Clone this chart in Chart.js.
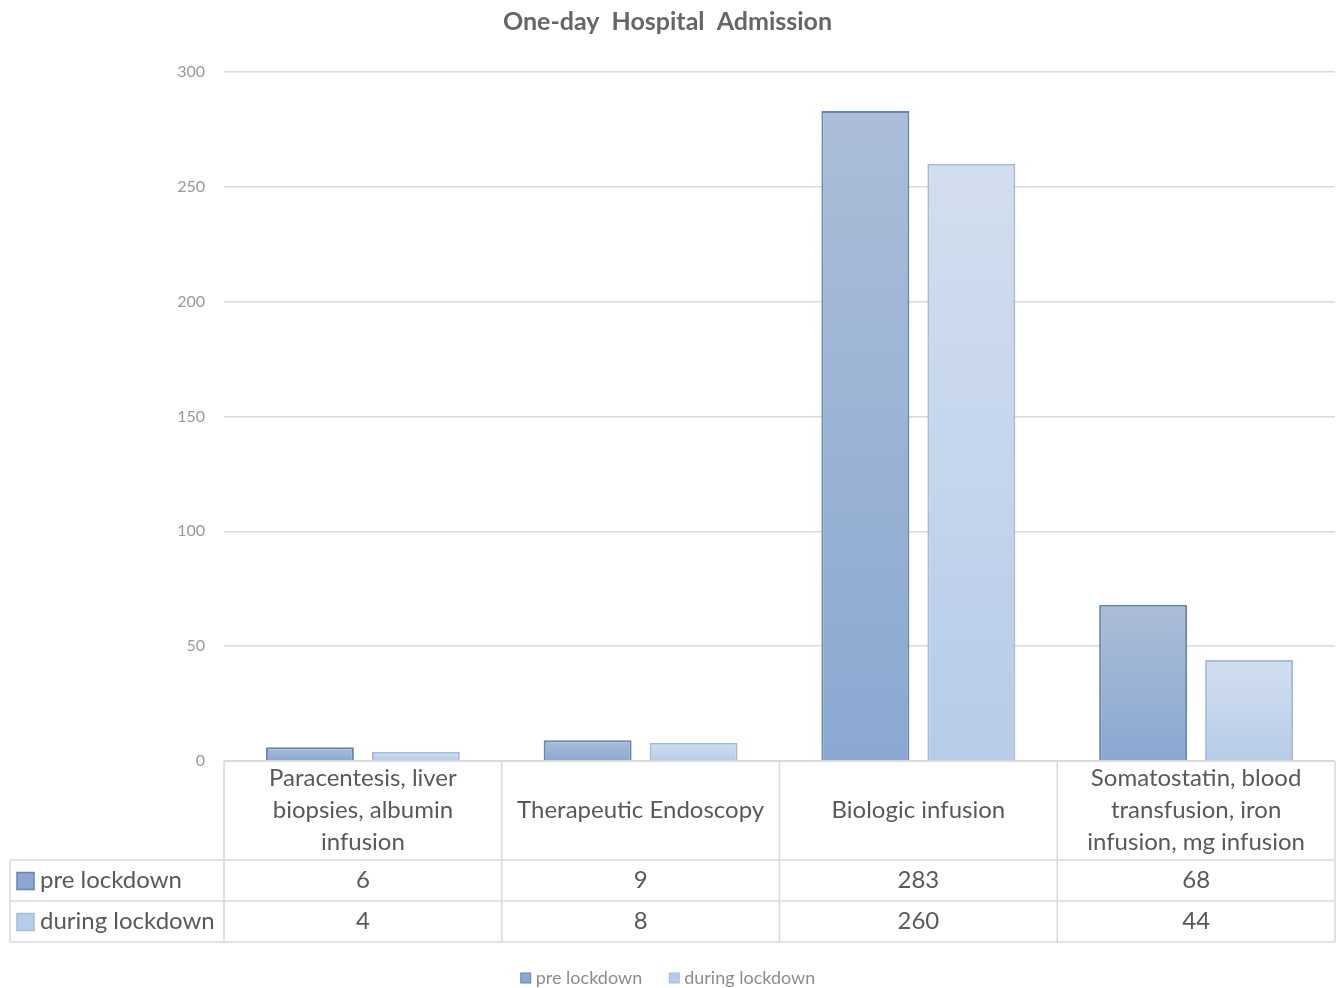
<!DOCTYPE html>
<html>
<head>
<meta charset="utf-8">
<title>One-day Hospital Admission</title>
<script src="https://cdn.jsdelivr.net/npm/chart.js@4.4.1/dist/chart.umd.min.js"></script>
<style>
  html, body { margin: 0; padding: 0; background: #fff; }
  #wrap { width: 1340px; height: 988px; position: relative; }
</style>
</head>
<body>
<div id="wrap"><canvas id="admissionChart"></canvas></div>
<script>
// categories are kept as the wrapped lines shown in the table header
const categories = [
  ['Paracentesis, liver', 'biopsies, albumin', 'infusion'],
  ['Therapeutic Endoscopy'],
  ['Biologic infusion'],
  ['Somatostatin, blood', 'transfusion, iron', 'infusion, mg infusion']
];
const seriesNames = ['pre lockdown', 'during lockdown'];
const preLockdown = [6, 9, 283, 68];
const duringLockdown = [4, 8, 260, 44];
const yMax = 300;
const yStep = 50;

const fontFamily = 'Lato, "Open Sans", sans-serif';
const textGrey = '#595959';
const lineGrey = '#d9d9d9';

// top / bottom colours of each series' gradient, plus border
const seriesStyles = [
  { top: '#abbdd8', bottom: '#8aa8d1', border: '#6686b2' },
  { top: '#d2deef', bottom: '#b7cce8', border: '#a3bbdc' }
];

function barGradient(style) {
  return function(context) {
    const chart = context.chart;
    const area = chart.chartArea;
    if (!area) return style.bottom;
    const y = chart.scales.y;
    const v = context.raw;
    const top = y.getPixelForValue(v);
    const bottom = y.getPixelForValue(0);
    if (!isFinite(top) || top === bottom) return style.bottom;
    const g = chart.ctx.createLinearGradient(0, top, 0, bottom);
    g.addColorStop(0, style.top);
    g.addColorStop(1, style.bottom);
    return g;
  };
}

// draws the data table under the plot and the small legend at the bottom
const dataTablePlugin = {
  id: 'dataTable',
  afterDraw(chart) {
    const ctx = chart.ctx;
    const area = chart.chartArea;
    const xs = chart.scales.x;
    const n = chart.data.labels.length;
    const colW = (area.right - area.left) / n;
    const headH = 99, rowH = 41, tableLeft = 10;
    const top = area.bottom;
    const bottom = top + headH + rowH * chart.data.datasets.length;

    ctx.save();
    ctx.strokeStyle = lineGrey;
    ctx.lineWidth = 1.5;
    ctx.beginPath();
    ctx.moveTo(area.left, top);
    ctx.lineTo(area.right, top);
    for (let r = 0; r <= chart.data.datasets.length; r++) {
      const yy = top + headH + r * rowH;
      ctx.moveTo(tableLeft, yy);
      ctx.lineTo(area.right, yy);
    }
    for (let i = 0; i <= n; i++) {
      const xx = area.left + i * colW;
      ctx.moveTo(xx, top);
      ctx.lineTo(xx, bottom);
    }
    ctx.moveTo(tableLeft, top + headH);
    ctx.lineTo(tableLeft, bottom);
    ctx.stroke();

    ctx.fillStyle = textGrey;
    ctx.font = '24px ' + fontFamily;
    ctx.textAlign = 'center';
    ctx.textBaseline = 'middle';
    const lineH = 32;
    chart.data.labels.forEach((lines, i) => {
      const cx = xs.getPixelForValue(i);
      const cy = top + headH / 2;
      lines.forEach((ln, k) => {
        ctx.fillText(ln, cx, cy + (k - (lines.length - 1) / 2) * lineH);
      });
    });

    chart.data.datasets.forEach((ds, r) => {
      const cy = top + headH + r * rowH + rowH / 2;
      const st = seriesStyles[r];
      // legend key
      ctx.fillStyle = st.bottom;
      ctx.fillRect(17, cy - 8, 17, 17);
      ctx.strokeStyle = st.border;
      ctx.lineWidth = 1.5;
      ctx.strokeRect(17, cy - 8, 17, 17);
      ctx.fillStyle = textGrey;
      ctx.textAlign = 'left';
      ctx.fillText(ds.label, 40, cy);
      ctx.textAlign = 'center';
      ds.data.forEach((v, i) => {
        ctx.fillText(String(v), xs.getPixelForValue(i), cy);
      });
    });

    // bottom legend
    ctx.font = '18px ' + fontFamily;
    const gap = 27, box = 10, boxGap = 5;
    const widths = chart.data.datasets.map(ds => box + boxGap + ctx.measureText(ds.label).width);
    const total = widths.reduce((a, b) => a + b, 0) + gap * (widths.length - 1);
    let lx = 668 - total / 2;
    const ly = 978;
    chart.data.datasets.forEach((ds, r) => {
      const st = seriesStyles[r];
      ctx.fillStyle = st.bottom;
      ctx.fillRect(lx, ly - 5, box, box);
      ctx.strokeStyle = st.border;
      ctx.lineWidth = 1;
      ctx.strokeRect(lx, ly - 5, box, box);
      ctx.fillStyle = '#8c8c8c';
      ctx.textAlign = 'left';
      ctx.fillText(ds.label, lx + box + boxGap, ly);
      lx += widths[r] + gap;
    });
    ctx.restore();
  }
};

const seriesData = [preLockdown, duringLockdown];

new Chart(document.getElementById('admissionChart'), {
  type: 'bar',
  data: {
    labels: categories,
    datasets: seriesNames.map((name, i) => ({
      label: name,
      data: seriesData[i],
      backgroundColor: barGradient(seriesStyles[i]),
      borderColor: seriesStyles[i].border,
      borderWidth: 2,
      borderSkipped: 'bottom',
      categoryPercentage: 0.763,
      barPercentage: 0.83
    }))
  },
  options: {
    responsive: true,
    maintainAspectRatio: false,
    animation: false,
    layout: {
      padding: { left: 0, right: 5, top: 7, bottom: 227 }
    },
    plugins: {
      legend: { display: false },
      tooltip: { enabled: false },
      title: {
        display: true,
        text: 'One-day  Hospital  Admission',
        color: '#666666',
        font: { family: fontFamily, size: 25, weight: 'bold', lineHeight: 1.2 },
        padding: { top: 0, bottom: 35 }
      }
    },
    scales: {
      x: {
        display: false
      },
      y: {
        min: 0,
        max: yMax,
        ticks: {
          stepSize: yStep,
          color: '#999999',
          font: { family: fontFamily, size: 16 },
          padding: 19
        },
        grid: { color: lineGrey, lineWidth: 1.5, drawTicks: false },
        border: { display: false },
        afterFit(scale) { scale.width = 224; }
      }
    }
  },
  plugins: [dataTablePlugin]
});
</script>
</body>
</html>
